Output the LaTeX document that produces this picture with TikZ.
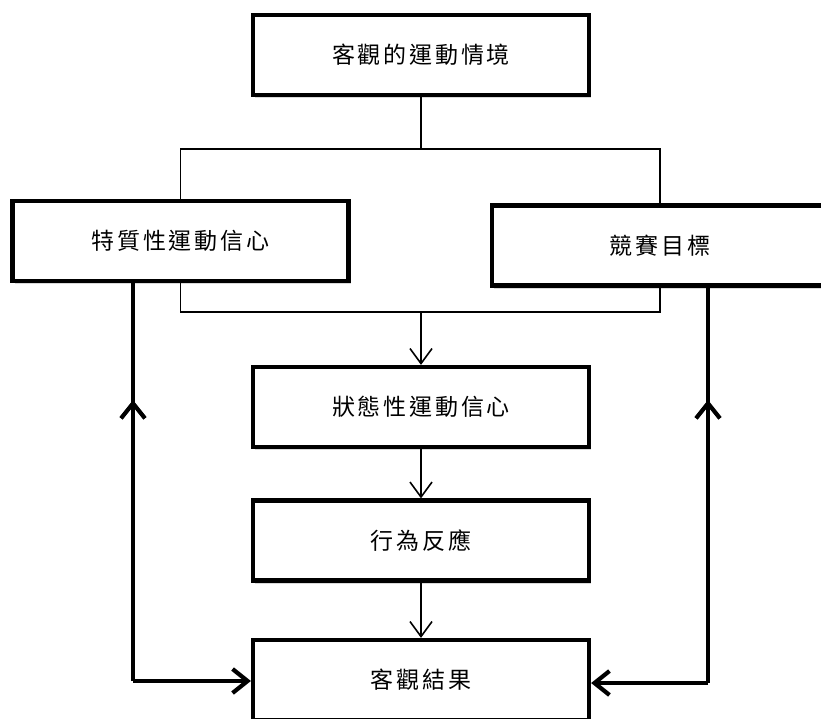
\documentclass[tikz,border=0pt]{standalone}
\usepackage{fontspec}
\usepackage{tikz}
\usetikzlibrary{arrows.meta,shadows}
\newfontfamily\tcfont[LetterSpace=12]{Noto Sans CJK TC}

\tikzset{
  box/.style={draw=black,line width=4.2pt,fill=white,minimum width=336pt,minimum height=80pt,
    font=\tcfont\fontsize{23pt}{26pt}\selectfont,
    drop shadow={shadow xshift=2pt,shadow yshift=-3pt,opacity=0.3}},
  link/.style={draw=black,line width=1.6pt},
  linkarrow/.style={link,-{Straight Barb[length=15pt,width=22pt,line width=1.6pt]}},
  feedback/.style={draw=black,line width=4.6pt},
  fbarrow/.style={feedback,-{Straight Barb[length=15pt,width=24pt,line width=4.2pt]}}
}

\begin{document}
\begin{tikzpicture}[x=1pt,y=-1pt]
                \useasboundingbox (0,0) rectangle (821,718);

                % boxes
                \node[box] (situation) at (421,55) {客觀的運動情境};
                \node[box] (trait) at (180.5,241) {特質性運動信心};
                \node[box] (goal) at (660,245.5) {競賽目標};
                \node[box] (state) at (421,407) {狀態性運動信心};
                \node[box] (behavior) at (421,540.5) {行為反應};
                \node[box] (outcome) at (421,680) {客觀結果};

                % thin connectors
                \coordinate (split) at (421,149);
                \coordinate (join) at (421,312);
                \draw[link] (situation.south) -- (split);
                \draw[link] (trait.north) |- (split) -| (goal.north);
                \draw[link] (trait.south) |- (join) -| (goal.south);
                \draw[linkarrow] (join) -- (state.north);
                \draw[linkarrow] (state.south) -- (behavior.north);
                \draw[linkarrow] (behavior.south) -- (outcome.north);

                % feedback loops
                \coordinate (lfoot) at (133,681);
                \coordinate (rfoot) at (708,683);
                \draw[feedback] (trait.south -| lfoot) -- (lfoot);
                \draw[fbarrow] (lfoot) -- (outcome.west |- lfoot);
                \draw[fbarrow] (lfoot) -- (133,400);
                \draw[feedback] (goal.south -| rfoot) -- (rfoot);
                \draw[fbarrow] (rfoot) -- (outcome.east |- rfoot);
                \draw[fbarrow] (rfoot) -- (708,400);

            \end{tikzpicture}
\end{document}
